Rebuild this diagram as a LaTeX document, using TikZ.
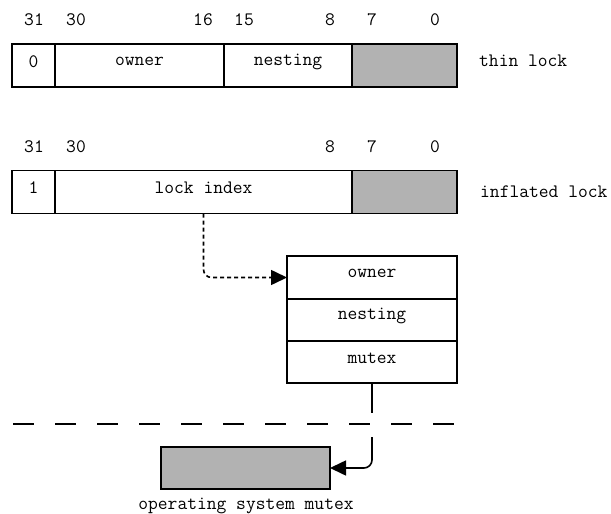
\documentclass[tikz,border=0pt]{standalone}
\usepackage{fontspec}
\usetikzlibrary{arrows.meta}
\tikzset{
  cell/.style={draw, line width=1.6pt, minimum height=43pt, inner sep=0pt, outer sep=0pt},
  grey/.style={cell, fill=black!30},
  txt/.style={font=\ttfamily\fontsize{19}{21}\selectfont, inner sep=0pt},
  bit/.style={txt},
  link/.style={line width=1.6pt, rounded corners=8pt},
  tip/.style={-{Triangle[length=16pt,width=15pt]}},
  sep/.style={line width=1.6pt, dash pattern=on 21pt off 21pt},
}
\begin{document}
\begin{tikzpicture}[x=1pt,y=-1pt]
\useasboundingbox (0,0) rectangle (611,514);

% thin lock word
\node[cell, minimum width=43pt]  (t0)  at (33.5,65.5) {};
\node[cell, minimum width=169pt] (tow) at (139.5,65.5) {};
\node[cell, minimum width=128pt] (tne) at (288,65.5) {};
\node[grey, minimum width=105pt] (tgr) at (404.5,65.5) {};
\node[txt] (t0l)  at ([yshift=4pt]t0.center)  {0};
\node[txt] (towl) at ([yshift=4pt]tow.center) {owner};
\node[txt] (tnel) at ([yshift=4pt]tne.center) {nesting};
\node[txt, anchor=west] (thin) at (479,61) {thin lock};

\node[bit] (a31) at (34,20) {31};
\node[bit] (a30) at (76,20) {30};
\node[bit] (a16) at (203,20) {16};
\node[bit] (a15) at (244,20) {15};
\node[bit] (a8)  at (330,20) {8};
\node[bit] (a7)  at (372,20) {7};
\node[bit] (a0)  at (435,20) {0};

% inflated lock word
\node[cell, minimum width=43pt]  (i1)  at (33.5,192) {};
\node[cell, minimum width=297pt] (iix) at (203.5,192) {};
\node[grey, minimum width=105pt] (igr) at (404.5,192) {};
\node[txt] (i1l)  at ([yshift=4pt]i1.center)  {1};
\node[txt] (iixl) at ([yshift=4pt]iix.center) {lock index};
\node[txt, anchor=west] (infl) at (480,192) {inflated lock};

\node[bit] (b31) at (34,147) {31};
\node[bit] (b30) at (76,147) {30};
\node[bit] (b8)  at (330,147) {8};
\node[bit] (b7)  at (372,147) {7};
\node[bit] (b0)  at (435,147) {0};

% monitor record
\node[cell, minimum width=170pt] (sow) at (372,277.5) {};
\node[cell, minimum width=170pt, minimum height=42pt] (sne) at (372,320) {};
\node[cell, minimum width=170pt, minimum height=42pt] (smu) at (372,362) {};
\node[txt] (sowl) at ([yshift=4pt]sow.center) {owner};
\node[txt] (snel) at ([yshift=4pt]sne.center) {nesting};
\node[txt] (smul) at ([yshift=4pt]smu.center) {mutex};

% operating system mutex
\node[grey, minimum width=169pt, minimum height=42pt] (os) at (245.5,468) {};
\node[txt] (osl) at (246,506) {operating system mutex};

% user / kernel boundary
\coordinate (sepL) at (13,424);
\coordinate (sepR) at (457,424);
\draw[sep] (sepL) -- (sepR);

% connectors
\draw[link, tip, dash pattern=on 4pt off 3pt] (iix.south) |- (sow.west);
\coordinate (cutA) at (372,413);
\coordinate (cutB) at (372,437);
\draw[link] (smu.south) -- (cutA);
\draw[link, tip] (cutB) |- (os.east);
\end{tikzpicture}
\end{document}
